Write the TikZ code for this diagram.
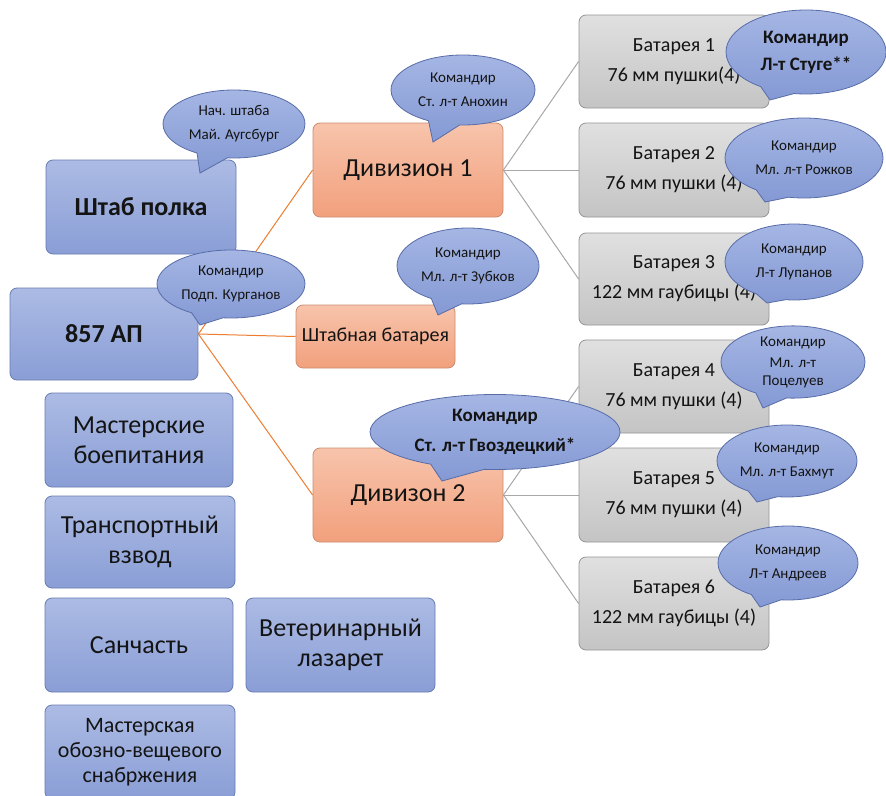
\documentclass[tikz,border=0pt]{standalone}
\usepackage{fontspec}
\setmainfont{Carlito}
\usetikzlibrary{shapes.callouts,backgrounds}
\definecolor{bluetop}{RGB}{172,187,228}
\definecolor{bluebot}{RGB}{138,158,214}
\definecolor{blueline}{RGB}{104,124,180}
\definecolor{bubtop}{RGB}{165,182,228}
\definecolor{bubbot}{RGB}{132,153,212}
\definecolor{bubline}{RGB}{88,108,168}
\definecolor{ortop}{RGB}{247,196,172}
\definecolor{orbot}{RGB}{242,160,124}
\definecolor{orline}{RGB}{205,140,110}
\definecolor{grtop}{RGB}{224,224,224}
\definecolor{grbot}{RGB}{196,196,196}
\definecolor{grline}{RGB}{150,150,150}
\definecolor{orconn}{RGB}{237,125,49}
\definecolor{grconn}{RGB}{168,168,168}
\definecolor{txt}{RGB}{20,20,20}
\begin{document}
\begin{tikzpicture}[x=1pt,y=-1pt,
  box/.style={rectangle, rounded corners=7pt, align=center, inner sep=0pt, text=txt, line width=0.8pt},
  bluebox/.style={box, draw=blueline, top color=bluetop, bottom color=bluebot},
  orbox/.style={box, draw=orline, top color=ortop, bottom color=orbot},
  grbox/.style={box, draw=grline, top color=grtop, bottom color=grbot,
     minimum width=190pt, font=\fontsize{20}{30}\selectfont},
  bigtext/.style={font=\fontsize{26}{30}\selectfont},
  bub/.style={ellipse callout, callout pointer arc=26, draw=bubline, line width=0.8pt,
     top color=bubtop, bottom color=bubbot, inner sep=0pt, align=center, text=txt,
     font=\fontsize{15}{24}\selectfont},
  bubbold/.style={bub, font=\bfseries\fontsize{19}{27}\selectfont},
  orc/.style={draw=orconn, line width=1pt},
  grc/.style={draw=grconn, line width=1pt}
]
\useasboundingbox (0,0) rectangle (886,795);

% boxes
\node[bluebox, minimum width=190pt, minimum height=94pt, font=\bfseries\fontsize{26}{30}\selectfont] (shtab) at (141,207) {Штаб полка};
\node[bluebox, minimum width=188pt, minimum height=92pt, font=\bfseries\fontsize{26}{30}\selectfont] (ap) at (104,334) {857 АП};
\node[orbox, minimum width=190pt, minimum height=94pt, bigtext] (div1) at (408,170) {Дивизион 1};
\node[orbox, minimum width=159pt, minimum height=63pt, font=\fontsize{20}{24}\selectfont] (shbat) at (375.5,336.5) {Штабная батарея};
\node[orbox, minimum width=190pt, minimum height=94pt, bigtext] (div2) at (408,495) {Дивизон 2};

\node[grbox, minimum height=93pt] (b1) at (674,61.5) {Батарея 1\\76 мм пушки(4)};
\node[grbox, minimum height=94pt] (b2) at (674,170) {Батарея 2\\76 мм пушки (4)};
\node[grbox, minimum height=92pt] (b3) at (674,279) {Батарея 3\\122 мм гаубицы (4)};
\node[grbox, minimum height=93pt] (b4) at (674,386.5) {Батарея 4\\76 мм пушки (4)};
\node[grbox, minimum height=94pt] (b5) at (674,495) {Батарея 5\\76 мм пушки (4)};
\node[grbox, minimum height=93pt] (b6) at (674,603.5) {Батарея 6\\122 мм гаубицы (4)};

\node[bluebox, minimum width=188pt, minimum height=94pt, bigtext] (mast) at (139,440) {Мастерские\\боепитания};
\node[bluebox, minimum width=190pt, minimum height=92pt, bigtext] (trans) at (140,542) {Транспортный\\взвод};
\node[bluebox, minimum width=188pt, minimum height=94pt, bigtext] (san) at (139,645) {Санчасть};
\node[bluebox, minimum width=189pt, minimum height=94pt, bigtext] (vet) at (340.5,645) {Ветеринарный\\лазарет};
\node[bluebox, minimum width=190pt, minimum height=94pt, font=\fontsize{22}{25}\selectfont] (obozn) at (140,752) {Мастерская\\обозно-вещевого\\снабржения};

% connectors (behind the boxes)
\begin{pgfonlayer}{background}
\fill[white] (0,0) rectangle (886,795);
\draw[orc] (ap.east) -- (div1.west);
\draw[orc] (ap.east) -- (shbat.west);
\draw[orc] (ap.east) -- (div2.west);
\draw[grc] (div1.east) -- (b1.west);
\draw[grc] (div1.east) -- (b2.west);
\draw[grc] (div1.east) -- (b3.west);
\draw[grc] (div2.east) -- (b4.west);
\draw[grc] (div2.east) -- (b5.west);
\draw[grc] (div2.east) -- (b6.west);
\end{pgfonlayer}

% bubble tail tips
\coordinate (tnach) at (200,173);
\coordinate (tkurg) at (200,325);
\coordinate (tanox) at (433,142);
\coordinate (tzubk) at (438,315);
\coordinate (tgvoz) at (442,481);
\coordinate (tstug) at (770,100);
\coordinate (trozh) at (765,202);
\coordinate (tlup) at (767,303);
\coordinate (tpoc) at (763,408);
\coordinate (tbax) at (757,502);
\coordinate (tandr) at (760,607);

% bubbles
\node[bub, minimum width=142pt, minimum height=68pt, callout absolute pointer={(tnach)}] (nach) at (234,124) {Нач. штаба\\Май. Аугсбург};
\node[bub, minimum width=148pt, minimum height=68pt, callout absolute pointer={(tkurg)}] (kurg) at (231,284) {Командир\\Подп. Курганов};
\node[bub, minimum width=144pt, minimum height=70pt, callout absolute pointer={(tanox)}] (anox) at (463,90) {Командир\\Ст. л-т Анохин};
\node[bub, minimum width=142pt, minimum height=76pt, callout absolute pointer={(tzubk)}] (zubk) at (468,266) {Командир\\Мл. л-т Зубков};
\node[bubbold, minimum width=250pt, minimum height=75pt, font=\bfseries\fontsize{19}{30}\selectfont, callout absolute pointer={(tgvoz)}] (gvoz) at (495,432) {Командир\\Ст. л-т Гвоздецкий*};
\node[bubbold, minimum width=160pt, minimum height=84pt, callout absolute pointer={(tstug)}] (stug) at (806,52) {Командир\\Л-т Стуге**};
\node[bub, minimum width=158pt, minimum height=80pt, callout absolute pointer={(trozh)}] (rozh) at (804,158) {Командир\\Мл. л-т Рожков};
\node[bub, minimum width=138pt, minimum height=76pt, callout absolute pointer={(tlup)}] (lup) at (794,262) {Командир\\Л-т Лупанов};
\node[bub, minimum width=144pt, minimum height=72pt, font=\fontsize{15}{18}\selectfont, callout absolute pointer={(tpoc)}] (poc) at (793,362) {Командир\\[3pt]Мл. л-т\\Поцелуев};
\node[bub, minimum width=140pt, minimum height=72pt, callout absolute pointer={(tbax)}] (bax) at (787,461) {Командир\\Мл. л-т Бахмут};
\node[bub, minimum width=140pt, minimum height=74pt, callout absolute pointer={(tandr)}] (andr) at (788,563) {Командир\\Л-т Андреев};

\end{tikzpicture}
\end{document}
